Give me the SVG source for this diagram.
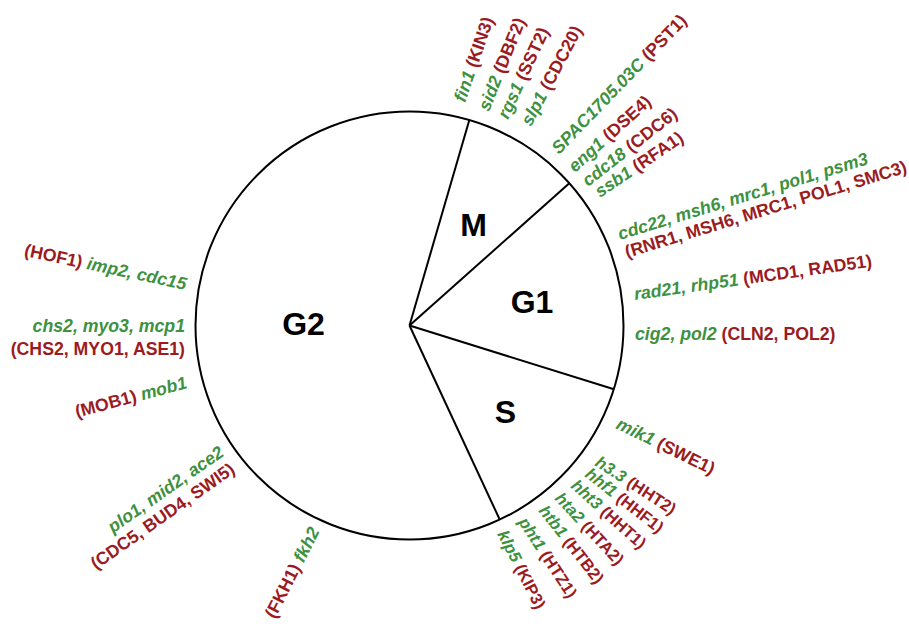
<svg xmlns="http://www.w3.org/2000/svg" width="909" height="624" viewBox="0 0 909 624">
<style>
.ph{font-family:"Liberation Sans",Arial,sans-serif;font-weight:bold;font-size:32px;fill:#000;text-anchor:middle}
.lbl{font-family:"Liberation Sans",Arial,sans-serif;font-weight:bold;font-size:17.7px}
.sm{font-size:16.6px}
.e{text-anchor:end}
.g{fill:#3d9140;font-style:italic}
.r{fill:#9b1b1f}
.ln{stroke:#000;stroke-width:2;fill:none}
</style>
<rect width="909" height="624" fill="#fff"/>
<g id="cycle">
<circle class="ln" cx="409.5" cy="325.5" r="214"/>
</g>
<g id="connectors">
<line class="ln" x1="409.5" y1="325.5" x2="469.4" y2="119.7"/>
<line class="ln" x1="409.5" y1="325.5" x2="569.3" y2="183.2"/>
<line class="ln" x1="409.5" y1="325.5" x2="613.2" y2="389.0"/>
<line class="ln" x1="409.5" y1="325.5" x2="499.4" y2="518.9"/>
</g>
<g id="phase-M"><text class="ph" x="473.7" y="236">M</text></g>
<g id="phase-G1"><text class="ph" x="532" y="313">G1</text></g>
<g id="phase-S"><text class="ph" x="505.5" y="423">S</text></g>
<g id="phase-G2"><text class="ph" x="303.5" y="334.5">G2</text></g>
<g id="labels-M">
<text class="lbl" transform="translate(465,103) rotate(-71)"><tspan class="g">fin1</tspan> <tspan class="r">(KIN3)</tspan></text>
<text class="lbl" transform="translate(489,112) rotate(-68)"><tspan class="g">sid2</tspan> <tspan class="r">(DBF2)</tspan></text>
<text class="lbl" transform="translate(508,120) rotate(-65)"><tspan class="g">rgs1</tspan> <tspan class="r">(SST2)</tspan></text>
<text class="lbl" transform="translate(531,127) rotate(-62)"><tspan class="g">slp1</tspan> <tspan class="r">(CDC20)</tspan></text>
</g>
<g id="labels-MG1">
<text class="lbl" transform="translate(559,155) rotate(-46)"><tspan class="g">SPAC1705.03C</tspan> <tspan class="r">(PST1)</tspan></text>
<text class="lbl" transform="translate(575,173) rotate(-42)"><tspan class="g">eng1</tspan> <tspan class="r">(DSE4)</tspan></text>
<text class="lbl" transform="translate(588,187) rotate(-38)"><tspan class="g">cdc18</tspan> <tspan class="r">(CDC6)</tspan></text>
<text class="lbl" transform="translate(600,198) rotate(-34)"><tspan class="g">ssb1</tspan> <tspan class="r">(RFA1)</tspan></text>
</g>
<g id="labels-G1">
<text class="lbl" transform="translate(620,240) rotate(-17)"><tspan class="g">cdc22, msh6, mrc1, pol1, psm3</tspan></text>
<text class="lbl" transform="translate(627,258) rotate(-17)"><tspan class="r">(RNR1, MSH6, MRC1, POL1, SMC3)</tspan></text>
<text class="lbl" transform="translate(635,300) rotate(-8)"><tspan class="g">rad21, rhp51</tspan> <tspan class="r">(MCD1, RAD51)</tspan></text>
<text class="lbl" transform="translate(635,340)"><tspan class="g">cig2, pol2</tspan> <tspan class="r">(CLN2, POL2)</tspan></text>
</g>
<g id="labels-S">
<text class="lbl" transform="translate(615,428) rotate(26)"><tspan class="g">mik1</tspan> <tspan class="r">(SWE1)</tspan></text>
<text class="lbl sm" transform="translate(594,465) rotate(33)"><tspan class="g">h3.3</tspan> <tspan class="r">(HHT2)</tspan></text>
<text class="lbl sm" transform="translate(584,476) rotate(38)"><tspan class="g">hhf1</tspan> <tspan class="r">(HHF1)</tspan></text>
<text class="lbl sm" transform="translate(570,487) rotate(42)"><tspan class="g">hht3</tspan> <tspan class="r">(HHT1)</tspan></text>
<text class="lbl sm" transform="translate(554,499) rotate(47)"><tspan class="g">hta2</tspan> <tspan class="r">(HTA2)</tspan></text>
<text class="lbl sm" transform="translate(538,511) rotate(52)"><tspan class="g">htb1</tspan> <tspan class="r">(HTB2)</tspan></text>
<text class="lbl sm" transform="translate(518,522) rotate(57)"><tspan class="g">pht1</tspan> <tspan class="r">(HTZ1)</tspan></text>
<text class="lbl sm" transform="translate(497,534) rotate(63)"><tspan class="g">klp5</tspan> <tspan class="r">(KIP3)</tspan></text>
</g>
<g id="labels-G2">
<text class="lbl e" transform="translate(185,290) rotate(12)"><tspan class="r">(HOF1)</tspan> <tspan class="g">imp2, cdc15</tspan></text>
<text class="lbl e" transform="translate(185,331.5)"><tspan class="g">chs2, myo3, mcp1</tspan></text>
<text class="lbl e" transform="translate(185,355)"><tspan class="r">(CHS2, MYO1, ASE1)</tspan></text>
<text class="lbl e" transform="translate(188,388) rotate(-15)"><tspan class="r">(MOB1)</tspan> <tspan class="g">mob1</tspan></text>
<text class="lbl e" transform="translate(225,455) rotate(-35)"><tspan class="g">plo1, mid2, ace2</tspan></text>
<text class="lbl e" transform="translate(236,472) rotate(-35)"><tspan class="r">(CDC5, BUD4, SWI5)</tspan></text>
<text class="lbl e" transform="translate(320,531) rotate(-63)"><tspan class="r">(FKH1)</tspan> <tspan class="g">fkh2</tspan></text>
</g>
</svg>
